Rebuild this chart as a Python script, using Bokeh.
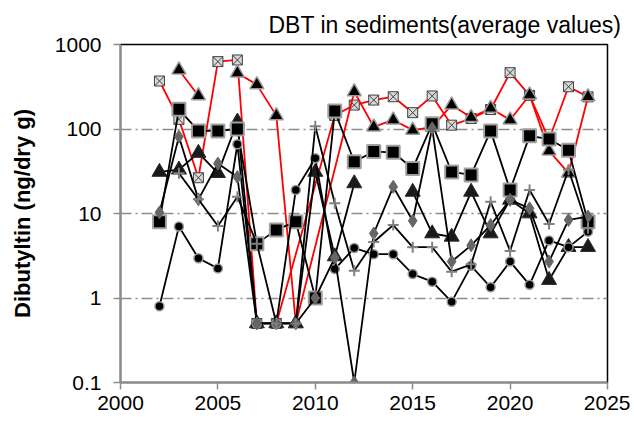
from bokeh.plotting import figure
from bokeh.models import Range1d, FixedTicker, Title
from bokeh.embed import file_html
from bokeh.resources import INLINE

nan = float("nan")
years = list(range(2002, 2025))

# None = value absent (line joins neighbours), nan = line break
red_x = [370, 130, 26.5, 627, 656, 0.5, 0.5, None, None, 145, 192, 220, 241, 156, 246, 111, 133, 170, 464, 250, 75, 316, 240]
red_tri = [None, 500, 248, nan, 460, 335, 144, 0.5, None, None, 276, 106, 128, 97, 105, 192, 137, 176, 128, 253, 55, 30, 241]
squares = [8.0, 171, 95, 95, 100, 4.4, 6.4, 8.0, 1.0, 163, 41, 54, 53, 34, 115, 31, 28.6, 95, 19, 83, 76, 56, 8.0]
triangles = [31, 33, 52, 30, 122, 0.5, 0.5, 0.5, 31, 3.1, 22.7, nan, nan, 18, 5.8, 5.3, 18, 5.8, 14.5, 10, 1.63, 4.0, 4.0]
circles = [0.8, 7.0, 2.95, 2.24, 66, 0.5, 0.5, 19, 45, 2.2, 3.9, 3.3, 3.3, 1.92, 1.56, 0.9, 2.4, 1.34, 2.7, 1.43, 4.8, 4.0, 6.1]
diamonds = [10.3, 81, 14.7, 39, 27, 0.5, 0.5, 0.5, 1.0, 3.0, 0.1, 5.8, 20.7, 8.2, 102, 2.7, 4.2, 7.3, 14.5, 11.5, 2.7, 8.4, 9.2]
pluses = [None, 30, 14.7, 7.1, 15.8, 4.4, 0.5, 0.5, 108, 13.2, 2.1, 4.6, 7.3, 4.0, 4.0, 2.05, 2.5, 13.8, 3.6, 19, 7.5, 33, 6.7]

y_ticks = [0.1, 1, 10, 100, 1000]
y_tick_labels = ["0.1", "1", "10", "100", "1000"]
x_ticks = [2000, 2005, 2010, 2015, 2020, 2025]

title_text = "DBT in sediments(average  values)"
y_label = "Dibutyltin (ng/dry g)"

FONT = "Liberation Sans"

p = figure(width=630, height=420, y_axis_type="log",
           x_range=Range1d(2000, 2025), y_range=Range1d(0.1, 1000),
           output_backend="svg", toolbar_location=None,
           min_border_left=120, min_border_right=23, min_border_top=44, min_border_bottom=38)

p.add_layout(Title(text=title_text, text_font=FONT, text_font_size="23px",
                   text_font_style="normal", align="left", offset=148,
                   vertical_align="top", standoff=10, text_color="black"), "above")

p.outline_line_color = "black"
p.outline_line_width = 1.5
p.background_fill_color = "white"
p.border_fill_color = "white"

p.xgrid.visible = False
p.ygrid.grid_line_color = "#8c8c8c"
p.ygrid.grid_line_width = 1.3
p.ygrid.grid_line_dash = "11 4 2 4"

p.yaxis.ticker = FixedTicker(ticks=y_ticks)
p.yaxis.major_label_overrides = {t: l for t, l in zip(y_ticks, y_tick_labels)}
p.xaxis.ticker = FixedTicker(ticks=x_ticks)

for ax in (p.xaxis[0], p.yaxis[0]):
    ax.axis_line_color = "#8c8c8c"
    ax.axis_line_width = 2
    ax.major_tick_line_color = "#8c8c8c"
    ax.major_tick_line_width = 1.5
    ax.major_tick_out = 7
    ax.major_tick_in = 0
    ax.minor_tick_line_color = None
    ax.major_label_text_font = FONT
    ax.major_label_text_font_size = "21px"
    ax.major_label_text_color = "black"

p.yaxis.major_label_standoff = 12
p.xaxis.major_label_standoff = 6
p.yaxis.axis_label = y_label
p.yaxis.axis_label_text_font = FONT
p.yaxis.axis_label_text_font_size = "22px"
p.yaxis.axis_label_text_font_style = "bold"
p.yaxis.axis_label_text_color = "black"
p.yaxis.axis_label_standoff = 17


def pts(vals):
    xs = [y for y, v in zip(years, vals) if v is not None]
    ys = [v for v in vals if v is not None]
    return xs, ys


def mpts(vals):
    xs = [y for y, v in zip(years, vals) if v is not None and v == v]
    ys = [v for v in vals if v is not None and v == v]
    return xs, ys


# red series with X-square markers
xs, ys = pts(red_x)
p.line(xs, ys, line_color="#ff0000", line_width=1.8)
xs, ys = mpts(red_x)
p.scatter(xs, ys, marker="square_x", size=10, fill_color="#d9d9d9",
          line_color="#404040", line_width=1)

# red series with triangle markers
xs, ys = pts(red_tri)
p.line(xs, ys, line_color="#ff0000", line_width=1.8)
xs, ys = mpts(red_tri)
p.scatter(xs, ys, marker="triangle", size=14, fill_color="black",
          line_color="#9a9a9a", line_width=1.5)

# black triangles
xs, ys = pts(triangles)
p.line(xs, ys, line_color="black", line_width=1.8)
xs, ys = mpts(triangles)
p.scatter(xs, ys, marker="triangle", size=15, fill_color="#1a1a1a",
          line_color="#2a2a2a", line_width=1)

# black squares
xs, ys = pts(squares)
p.line(xs, ys, line_color="black", line_width=1.8)
p.scatter(xs, ys, marker="square", size=13, fill_color="black",
          line_color="#a0a0a0", line_width=2)

# circles
xs, ys = pts(circles)
p.line(xs, ys, line_color="black", line_width=1.8)
p.scatter(xs, ys, marker="circle", size=9, fill_color="black",
          line_color="#9a9a9a", line_width=1.5)

# diamonds
xs, ys = pts(diamonds)
p.line(xs, ys, line_color="black", line_width=1.8)
p.scatter(xs, ys, marker="diamond", size=13, fill_color="#666666",
          line_color="#666666", line_width=1)

# plus
xs, ys = pts(pluses)
p.line(xs, ys, line_color="black", line_width=1.8)
p.scatter(xs, ys, marker="cross", size=11, line_color="#808080", line_width=2)

open("out.html", "w").write(file_html(p, INLINE))
